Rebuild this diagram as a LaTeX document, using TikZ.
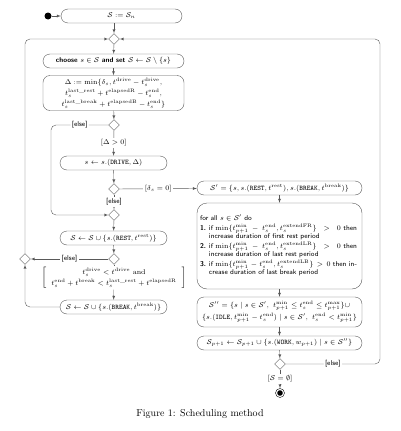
\documentclass[tikz,border=0pt]{standalone}
\usepackage{amsmath}
\usepackage{amssymb}
\usetikzlibrary{shapes.geometric}
\tikzset{>=latex}
\newcommand{\up}[1]{\mathrm{#1}}
\newcommand{\kind}[1]{\texttt{#1}}

\begin{document}
\begin{tikzpicture}[x=1pt, y=-1pt,
    every node/.style={font=\scriptsize},
    activity/.style={draw=black!65, rounded corners=7pt, minimum height=14pt, align=center, inner sep=2pt},
    branch/.style={draw=black!65, diamond, minimum size=11pt, inner sep=0pt},
    flow/.style={->, draw=black!65},
    guardlbl/.style={fill=white, inner sep=1.5pt, font=\scriptsize\sffamily}]
    \useasboundingbox (0,0) rectangle (400,431);
    % left column
    \node[circle, fill, inner sep=0pt, minimum size=7pt](start)at(48, 16){};
    \node[activity, minimum width=121pt](init)at(121.5, 16){$\mathcal{S} := \mathcal{S}_n$};
    \node[branch](merge)at(114, 39){};
    \node[activity, minimum width=141pt](choose)at(113.5, 61){\sffamily\bfseries choose $s\in\mathcal{S}$ and set $\mathcal{S}\leftarrow\mathcal{S}\setminus\{s\}$};
    \node[activity, minimum width=141pt, minimum height=35pt, inner sep=1pt](delta)at(113.5, 93){$\Delta := \min\{\delta_s, t^{\up{drive}} - t_s^{\up{drive}},$\\[1.5pt] $t_s^{\up{last\_rest}} + t^{\up{elapsedR}} - t_s^{\up{end}},$\\[1.5pt] $t_s^{\up{last\_break}} + t^{\up{elapsedB}} - t_s^{\up{end}}\}$};
    \node[branch](dDelta)at(114, 125){};
    \node[activity, minimum width=107pt](drive)at(113.5, 163){$s\leftarrow s.(\kind{DRIVE}, \Delta)$};
    \node[branch](dZero)at(114, 189){};
    \node[branch](mergeB)at(114, 215){};
    \node[activity, minimum width=107pt](rest)at(113.5, 238){$\mathcal{S}\leftarrow\mathcal{S}\cup\{s.(\kind{REST}, t^{\up{rest}})\}$};
    \node[branch](dBreak)at(114, 259){};
    \node[fill=white, inner sep=1pt](guard)at(114, 278){$\left[\begin{array}{c} t_s^{\up{drive}} < t^{\up{drive}}\ \up{and}\\[2pt] t_s^{\up{end}} + t^{\up{break}} < t_s^{\up{last\_rest}} + t^{\up{elapsedR}}\end{array}\right]$};
    \node[activity, minimum width=107pt](brk)at(113.5, 307){$\mathcal{S}\leftarrow\mathcal{S}\cup\{s.(\kind{BREAK}, t^{\up{break}})\}$};
    \node[branch](mergeL)at(25, 259){};
    \coordinate(skip)at(51, 125);
    % right column
    \node[activity, minimum width=165pt](sprime)at(279.5, 188){$\mathcal{S}' = \{s, s.(\kind{REST}, t^{\up{rest}}), s.(\kind{BREAK}, t^{\up{break}})\}$};
    \node[activity, rounded corners=10pt, text width=159pt, minimum height=86pt, align=left, inner sep=3pt](forall)at(279.5, 246){\sffamily\lineskiplimit=1pt\lineskip=1pt
        \begin{tabular}{@{}r@{\hspace{3pt}}p{148pt}@{}}
        \multicolumn{2}{@{}l@{}}{for all $s\in\mathcal{S}'$ do}\\[1pt]
        \textbf{1.} & if $\min\{t_{p+1}^{\up{min}} - t_s^{\up{end}}, t_s^{\up{extendFR}}\} > 0$ then\linebreak increase duration of first rest period\\[1pt]
        \textbf{2.} & if $\min\{t_{p+1}^{\up{min}} - t_s^{\up{end}}, t_s^{\up{extendLR}}\} > 0$ then\linebreak increase duration of last rest period\\[1pt]
        \textbf{3.} & if $\min\{t_{p+1}^{\up{min}} - t_s^{\up{end}}, t_s^{\up{extendLB}}\} > 0$ then in-\linebreak crease duration of last break period
        \end{tabular}};
    \node[activity, minimum width=165pt, minimum height=30pt](sdprime)at(279.5, 312){$\mathcal{S}'' = \{s \mid s\in\mathcal{S}',\ t_{p+1}^{\up{min}}\le t_s^{\up{end}}\le t_{p+1}^{\up{max}}\}\cup$\\[1.5pt] $\{s.(\kind{IDLE}, t_{p+1}^{\up{min}} - t_s^{\up{end}})\mid s\in\mathcal{S}',\ t_s^{\up{end}} < t_{p+1}^{\up{min}}\}$};
    \node[activity, minimum width=165pt](snext)at(279.5, 343){$\mathcal{S}_{p+1}\leftarrow\mathcal{S}_{p+1}\cup\{s.(\kind{WORK}, w_{p+1})\mid s\in\mathcal{S}''\}$};
    \node[branch](dEmpty)at(280, 364){};
    \node[circle, draw, inner sep=0pt, minimum size=9pt](stop)at(280, 393){};
    \fill(stop)circle(2.8pt);
    \coordinate(ret)at(380, 364);
    % connectors
    \draw[flow](start)--(init);
    \draw[flow](init.south -| merge)--(merge);
    \draw[flow](merge)--(choose);
    \draw[flow](choose)--(delta);
    \draw[flow](delta)--(dDelta);
    \draw[flow](dDelta)--node[guardlbl]{$[\Delta > 0]$}(drive);
    \draw[flow, rounded corners=5pt](dDelta)--node[guardlbl]{[else]}(skip)|-(mergeB);
    \draw[flow](drive)--(dZero);
    \draw[flow](dZero)--node[guardlbl]{$[\delta_s = 0]$}(sprime);
    \draw[flow](dZero)--node[guardlbl]{[else]}(mergeB);
    \draw[flow](mergeB)--(rest);
    \draw[flow](rest)--(dBreak);
    \draw[flow](dBreak)--node[guardlbl]{[else]}(mergeL);
    \draw[draw=black!65](dBreak)--(guard);
    \draw[flow](guard)--(brk);
    \draw[flow, rounded corners=5pt](brk.west)-|(mergeL);
    \draw[flow, rounded corners=5pt](mergeL)|-(merge);
    \draw[flow](sprime)--(forall);
    \draw[flow](forall)--(sdprime);
    \draw[flow](sdprime)--(snext);
    \draw[flow](snext)--(dEmpty);
    \draw[flow](dEmpty)--node[guardlbl]{$[\mathcal{S} = \emptyset]$}(stop);
    \draw[flow, rounded corners=5pt](dEmpty)--node[guardlbl]{[else]}(ret)|-(merge);
    % caption
    \node[font=\normalsize](caption)at(200, 414){Figure 1: Scheduling method};
\end{tikzpicture}
\end{document}
